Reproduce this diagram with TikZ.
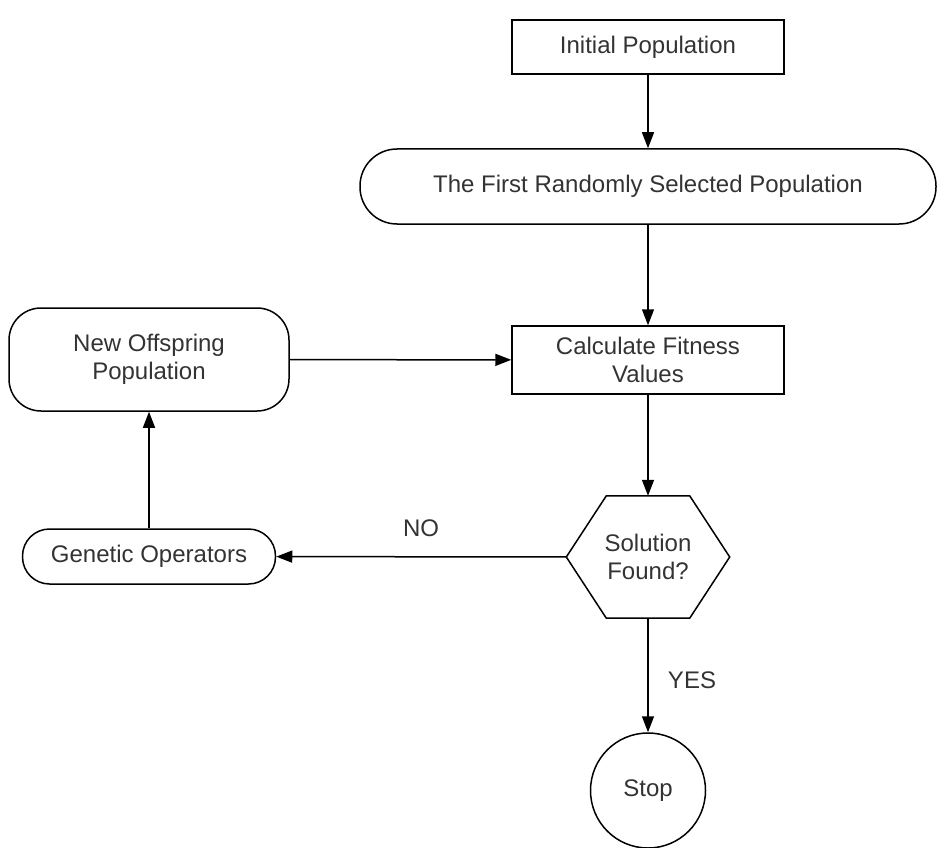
\documentclass[tikz,border=0pt]{standalone}
\usepackage{fontspec}
\setmainfont{Liberation Sans}
\usetikzlibrary{arrows.meta}
\begin{document}
\begin{tikzpicture}[x=1pt, y=-1pt,
  every node/.style={font=\fontsize{24}{28}\selectfont, text=black!80, align=center, inner sep=0pt},
  box/.style={draw, line width=1.5pt, rectangle},
  conn/.style={line width=1.5pt, -{Triangle[length=16pt,width=12pt]}}]
\useasboundingbox (0,0) rectangle (948,848);
\node[box, minimum width=272, minimum height=54] (init) at (648,47) {Initial Population};
\node[box, rounded corners=37, minimum width=576, minimum height=75] (first) at (648,186.5) {The First Randomly Selected Population};
\node[box, minimum width=272, minimum height=68] (fit) at (648,360) {Calculate Fitness\\Values};
\node[box, rounded corners=32, minimum width=280, minimum height=103] (offs) at (149,359.5) {New Offspring\\Population};
\node[box, rounded corners=27, minimum width=253, minimum height=55] (gen) at (149,556.5) {Genetic Operators};
\node[minimum width=163, minimum height=122] (sol) at (648,557) {Solution\\Found?};
\draw[line width=1.5pt] (sol.west) -- ([xshift=40]sol.north west) -- ([xshift=-40]sol.north east) -- (sol.east) -- ([xshift=-40]sol.south east) -- ([xshift=40]sol.south west) -- cycle;
\node[box, circle, minimum size=115] (stop) at (648,790.5) {Stop};
\node (no) at (421,528) {NO};
\node (yes) at (692,680) {YES};
\draw[conn] (init) -- (first);
\draw[conn] (first) -- (fit);
\draw[conn] (fit) -- (sol);
\draw[conn] (sol) -- (stop);
\draw[conn] (sol) -- (gen);
\draw[conn] (gen) -- (offs);
\draw[conn] (offs) -- (fit);
\end{tikzpicture}
\end{document}
